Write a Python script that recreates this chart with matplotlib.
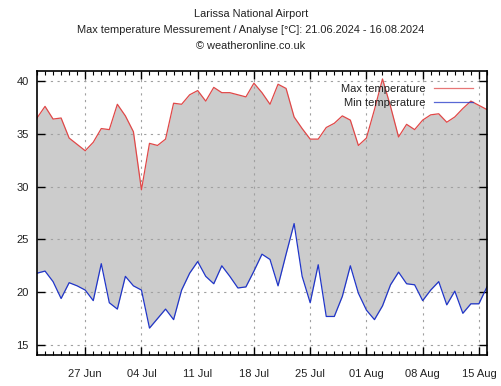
import matplotlib
matplotlib.use("Agg")
import matplotlib.pyplot as plt
import matplotlib.dates as mdates
import numpy as np
import pandas as pd

plt.rcParams['font.family'] = ['Liberation Sans', 'DejaVu Sans']

dates = pd.date_range("2024-06-21", "2024-08-16", freq="D")
tmax = [36.5, 37.6, 36.4, 36.5, 34.6, 34.0, 33.4, 34.2, 35.5, 35.4,
        37.8, 36.7, 35.2, 29.7, 34.1, 33.9, 34.5, 37.9, 37.8, 38.7,
        39.1, 38.1, 39.4, 38.9, 38.9, 38.7, 38.5, 39.8, 38.9, 37.8,
        39.7, 39.3, 36.6, 35.5, 34.5, 34.5, 35.6, 36.0, 36.7, 36.3,
        33.9, 34.6, 37.3, 40.2, 37.6, 34.7, 35.9, 35.4, 36.3, 36.8,
        36.9, 36.1, 36.6, 37.4, 38.1, 37.7, 37.3]
tmin = [21.8, 22.0, 21.0, 19.4, 20.9, 20.6, 20.2, 19.2, 22.7, 19.0,
        18.4, 21.5, 20.6, 20.2, 16.6, 17.5, 18.4, 17.4, 20.2, 21.8,
        22.9, 21.5, 20.8, 22.5, 21.5, 20.4, 20.5, 22.0, 23.6, 23.1,
        20.6, 23.6, 26.5, 21.5, 19.0, 22.6, 17.7, 17.7, 19.6, 22.5,
        19.9, 18.3, 17.4, 18.7, 20.7, 21.9, 20.8, 20.7, 19.2, 20.2,
        21.0, 18.8, 20.1, 18.0, 18.9, 18.9, 20.5]
yticks = [15, 20, 25, 30, 35, 40]
xtick_dates = ["2024-06-27", "2024-07-04", "2024-07-11", "2024-07-18",
               "2024-07-25", "2024-08-01", "2024-08-08", "2024-08-15"]

fig = plt.figure(figsize=(5.02, 3.86), dpi=100)
ax = fig.add_axes([0.0737, 0.0803, 0.8963, 0.7357])

ax.fill_between(dates, tmin, tmax, color='#cccccc', lw=0, zorder=1)
ax.plot(dates, tmax, color='#e04848', lw=0.9, label='Max temperature', zorder=3)
ax.plot(dates, tmin, color='#2035c8', lw=0.9, label='Min temperature', zorder=3)

ax.set_xlim(dates[0], dates[-1])
ax.set_ylim(14.05, 40.95)
ax.set_yticks(yticks)

ticks = pd.to_datetime(xtick_dates)
ax.set_xticks(ticks)
ax.set_xticklabels([d.strftime("%d %b") for d in ticks])
ax.xaxis.set_minor_locator(mdates.DayLocator())

ax.grid(True, which='major', color='#a0a0a0', ls=(0, (2, 4)), lw=0.8, zorder=2)
ax.set_axisbelow(False)
ax.tick_params(axis='both', which='both', direction='in', top=True, right=True,
               labelsize=8, colors='black', labelcolor='#222222')
ax.tick_params(which='major', length=6, width=1)
ax.tick_params(which='minor', length=3, width=0.8)
ax.tick_params(axis='x', pad=10)
ax.tick_params(axis='y', pad=6)
for s in ax.spines.values():
    s.set_linewidth(1.2)
    s.set_zorder(5)

leg = ax.legend(loc='upper right', frameon=False, fontsize=8, markerfirst=False,
                handlelength=3.5, bbox_to_anchor=(0.992, 0.99), labelspacing=0.35,
                handletextpad=0.8)
for t in leg.get_texts():
    t.set_ha('right')
    t.set_color('#222222')
for h in leg.get_lines():
    h.set_alpha(0.75)

fig.text(0.5, 0.965, "Larissa National Airport", ha='center', va='center', fontsize=7.9, color='#222222')
fig.text(0.5, 0.922, "Max temperature Messurement / Analyse [°C]: 21.06.2024 - 16.08.2024",
         ha='center', va='center', fontsize=7.9, color='#222222')
fig.text(0.5, 0.882, "© weatheronline.co.uk", ha='center', va='center', fontsize=7.9, color='#222222')

fig.savefig("out.png", dpi=100)
